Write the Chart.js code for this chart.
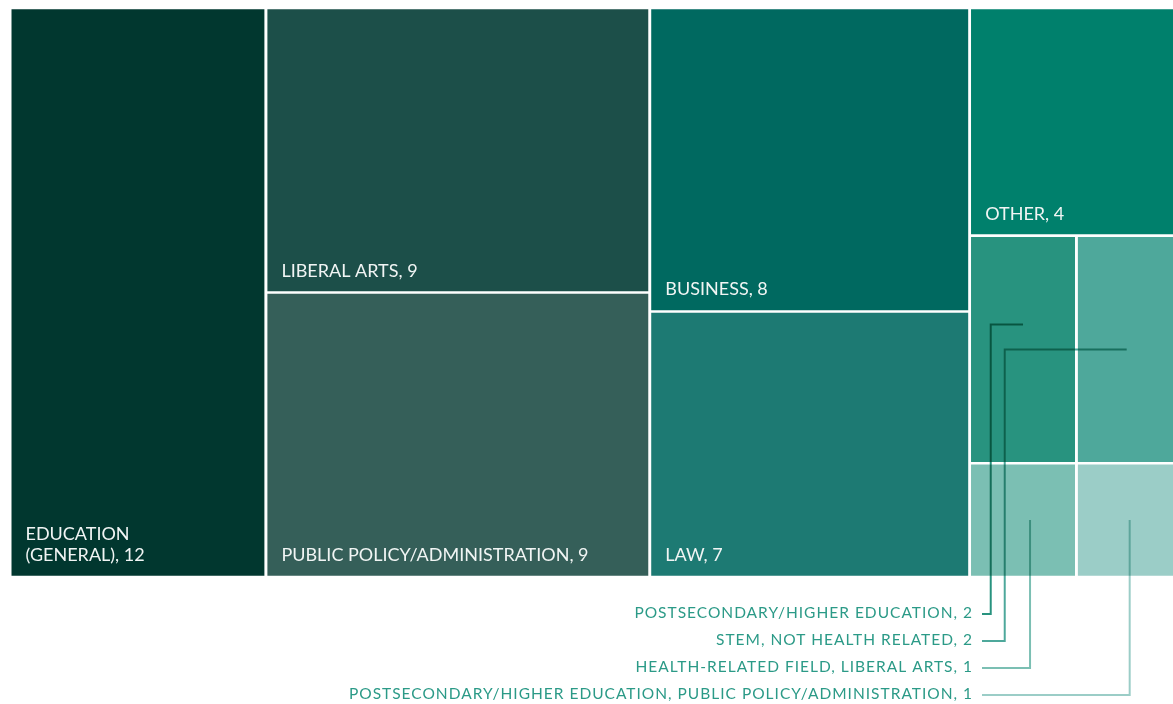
<!DOCTYPE html>
<html>
<head>
<meta charset="utf-8">
<script src="https://cdn.jsdelivr.net/npm/chart.js@4"></script>
<style>
  body { margin: 0; background: #ffffff; }
  #wrap { width: 1173px; height: 704px; position: relative; }
</style>
</head>
<body>
<div id="wrap"><canvas id="myChart"></canvas></div>
<script>
// data
var categories = [
    'EDUCATION (GENERAL)',
    'LIBERAL ARTS',
    'PUBLIC POLICY/ADMINISTRATION',
    'BUSINESS',
    'LAW',
    'OTHER',
    'POSTSECONDARY/HIGHER EDUCATION',
    'STEM, NOT HEALTH RELATED',
    'HEALTH-RELATED FIELD, LIBERAL ARTS',
    'POSTSECONDARY/HIGHER EDUCATION, PUBLIC POLICY/ADMINISTRATION'
];
var counts = [12, 9, 9, 8, 7, 4, 2, 2, 1, 1];
// how the cells are nested (alternating column / row splits)
var groups = [0, [1, 2], [3, 4], [5, [[6, 8], [7, 9]]]];

var colors = ['#01372f', '#1c4f49', '#355f59', '#006960', '#1d7a73',
              '#00806c', '#28937f', '#4ea89b', '#7bbfb3', '#9bcdc7'];

var TREE_W = 1173, TREE_H = 569, GAP = 2.6;
var FONT = 'Lato, "Open Sans", sans-serif';

function total(node) {
    if (typeof node === 'number') return counts[node];
    return node.reduce(function (s, n) { return s + total(n); }, 0);
}

function layout(node, x, y, w, h, horiz, out) {
    if (typeof node === 'number') {
        out[node] = { x: x, y: y, w: w, h: h };
        return;
    }
    var sum = total(node), pos = 0;
    node.forEach(function (child) {
        var share = total(child) / sum;
        if (horiz) layout(child, x + pos * w, y, share * w, h, !horiz, out);
        else layout(child, x, y + pos * h, w, share * h, !horiz, out);
        pos += share;
    });
}

var cells = [];
layout(groups, 0, 0, TREE_W, TREE_H, true, cells);

var datasets = [];
cells.forEach(function (r, i) {
    var g = GAP / 2;
    datasets.push({
        label: categories[i],
        data: [{ x: r.x + g, y: r.y + g }, { x: r.x + r.w - g, y: r.y + g }],
        fill: { value: r.y + r.h - g },
        backgroundColor: colors[i],
        borderWidth: 0,
        pointRadius: 0,
        order: 2
    });
});

// leader lines for the small cells, labels sit under the tree
var ROW0 = TREE_H + 37, ROW_STEP = 27, STUB_X = 972;
var small = [6, 7, 8, 9];
small.forEach(function (idx, k) {
    var r = cells[idx];
    var rowY = ROW0 + k * ROW_STEP;
    var pts;
    if (k < 2) {
        var laneX = cells[6].x + 21 + k * 14;
        var topY = r.y + r.h / 2 - 25 + k * 25;
        pts = [{ x: STUB_X, y: rowY }, { x: laneX, y: rowY },
               { x: laneX, y: topY }, { x: r.x + r.w / 2 - k * 3, y: topY }];
    } else {
        var lx = r.x + r.w / 2 + (k === 2 ? 7 : 0);
        pts = [{ x: STUB_X, y: rowY }, { x: lx, y: rowY },
               { x: lx, y: r.y + r.h / 2 }];
    }
    datasets.push({
        label: 'leader' + idx,
        leader: true,
        data: pts,
        borderColor: colors[idx],
        borderWidth: 2,
        borderJoinStyle: 'miter',
        borderCapStyle: 'butt',
        pointRadius: 0,
        fill: false,
        tension: 0,
        order: 1
    });
});

// break after the first word when the label does not fit the cell
function wrapText(ctx, text, maxW) {
    if (ctx.measureText(text).width <= maxW) return [text];
    var cut = text.indexOf(' ');
    return [text.slice(0, cut), text.slice(cut + 1)];
}

var labelPlugin = {
    id: 'labels',
    beforeDatasetDraw: function (chart, args) {
        if (args.meta._dataset.leader) {
            chart.ctx.save();
            chart.ctx.globalCompositeOperation = 'multiply';
        }
    },
    afterDatasetDraw: function (chart, args) {
        if (args.meta._dataset.leader) chart.ctx.restore();
    },
    afterDatasetsDraw: function (chart) {
        var ctx = chart.ctx, xs = chart.scales.x, ys = chart.scales.y;
        ctx.save();
        ctx.font = '18px ' + FONT;
        ctx.fillStyle = '#f1f5f4';
        ctx.textAlign = 'left';
        ctx.textBaseline = 'alphabetic';
        for (var i = 0; i < 6; i++) {
            var r = cells[i];
            var lines = wrapText(ctx, categories[i] + ', ' + counts[i], r.w - 50);
            var px = xs.getPixelForValue(r.x) + 15.5;
            var bottom = ys.getPixelForValue(r.y + r.h) - 16;
            lines.forEach(function (ln, j) {
                ctx.fillText(ln, px, bottom - (lines.length - 1 - j) * 21);
            });
        }
        ctx.font = '15.5px ' + FONT;
        ctx.letterSpacing = '1px';
        ctx.fillStyle = '#2b9a87';
        ctx.textAlign = 'right';
        ctx.textBaseline = 'middle';
        small.forEach(function (idx, k) {
            var y = ys.getPixelForValue(ROW0 + k * ROW_STEP) - 1;
            ctx.fillText(categories[idx] + ', ' + counts[idx], xs.getPixelForValue(STUB_X - 9), y);
        });
        ctx.letterSpacing = '0px';
        ctx.restore();
    }
};

var ctx = document.getElementById('myChart').getContext('2d');
var chart = new Chart(ctx, {
    type: 'line',
    data: { datasets: datasets },
    options: {
        responsive: true,
        maintainAspectRatio: false,
        animation: false,
        layout: { padding: { left: 10, top: 8, right: 0, bottom: 0 } },
        scales: {
            x: { type: 'linear', min: 0, max: 1163, display: false },
            y: { type: 'linear', min: 0, max: 696, reverse: true, display: false }
        },
        plugins: {
            legend: { display: false },
            tooltip: { enabled: false }
        }
    },
    plugins: [labelPlugin]
});
</script>
</body>
</html>
